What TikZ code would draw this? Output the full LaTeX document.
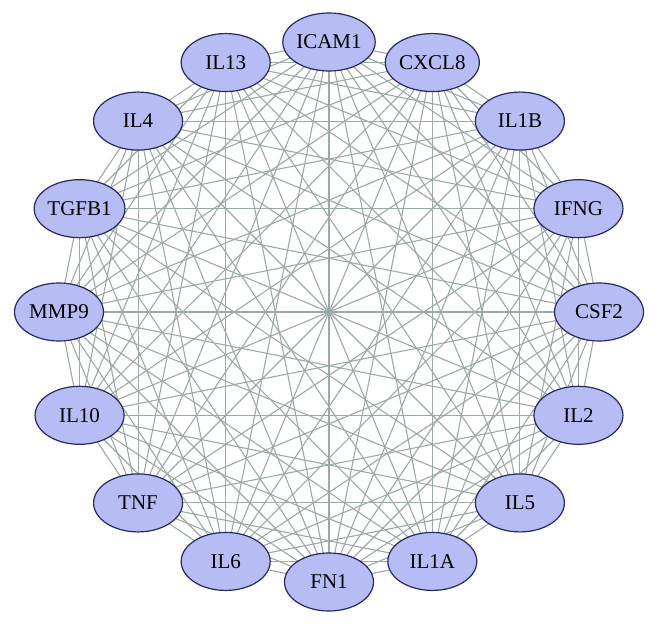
\documentclass[tikz,border=0pt]{standalone}
\usepackage{fontspec}
\setmainfont{Liberation Serif}
\usetikzlibrary{shapes.geometric,backgrounds}
\definecolor{geneblue}{RGB}{184,188,245}
\definecolor{genedraw}{RGB}{38,42,92}
\definecolor{edgegray}{RGB}{155,170,167}

\begin{document}
\begin{tikzpicture}[x=1pt,y=1pt]
  \tikzstyle{gene}=[ellipse,fill=geneblue,draw=genedraw,line width=1.2pt,
    minimum width=89pt,minimum height=58pt,inner sep=0pt,
    font=\fontsize{21}{21}\selectfont]
  \tikzstyle{link}=[draw=edgegray,line width=1.1pt]

  \useasboundingbox (0,0) rectangle (658,627);

  \begin{scope}[shift={(329,315)}]
    \foreach \name [count=\i] in {ICAM1,CXCL8,IL1B,IFNG,CSF2,IL2,IL5,IL1A,
                                  FN1,IL6,TNF,IL10,MMP9,TGFB1,IL4,IL13}
      \node[gene] (g\i) at ({90-(\i-1)*22.5}:270) {\name};
  \end{scope}

  \begin{scope}[on background layer]
    \foreach \i in {1,...,15} {
      \pgfmathtruncatemacro\k{\i+1}
      \foreach \j in {\k,...,16}
        \path[link] (g\i.center) -- (g\j.center);
    }
  \end{scope}
\end{tikzpicture}
\end{document}
